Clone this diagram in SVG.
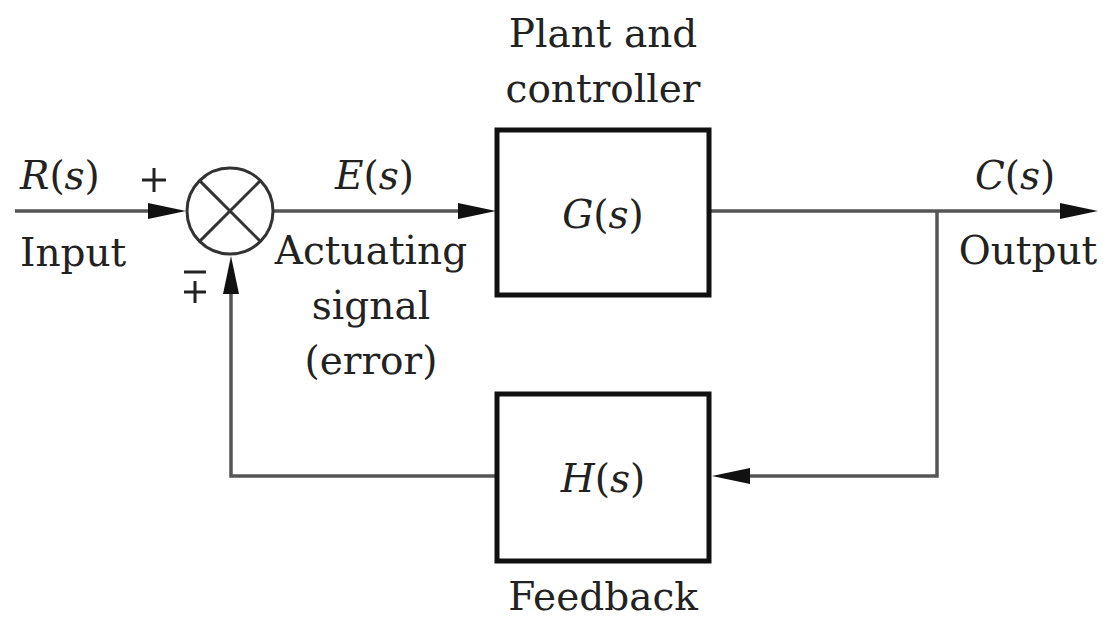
<svg xmlns="http://www.w3.org/2000/svg" width="1103" height="620" viewBox="0 0 1103 620">
<defs>
<style>
text{font-family:'DejaVu Serif',serif;font-size:39px;fill:#222}
.i{font-style:italic}
.c{text-anchor:middle}
.ln{fill:none;stroke:#555;stroke-width:3.5}
.box{fill:#fff;stroke:#111;stroke-width:5}
.ah{fill:#111}
</style>
</defs>
<rect width="1103" height="620" fill="#fff"/>
<g id="connectors">
<line class="ln" x1="15" y1="211" x2="160" y2="211"/>
<polygon class="ah" points="148,203 186,211 148,219"/>
<line class="ln" x1="273" y1="211" x2="470" y2="211"/>
<polygon class="ah" points="458,203 496,211 458,219"/>
<line class="ln" x1="710" y1="211" x2="1070" y2="211"/>
<polygon class="ah" points="1060,203 1098,211 1060,219"/>
<polyline class="ln" points="937,211 937,476 740,476"/>
<polygon class="ah" points="750,468 712,476 750,484"/>
<polyline class="ln" points="497,476 231,476 231,285"/>
<polygon class="ah" points="223,294 231,256 239,294"/>
</g>
<g id="sum">
<circle cx="230" cy="211" r="43" fill="#fff" stroke="#333" stroke-width="3"/>
<line x1="199.6" y1="180.6" x2="260.4" y2="241.4" stroke="#333" stroke-width="3"/>
<line x1="260.4" y1="180.6" x2="199.6" y2="241.4" stroke="#333" stroke-width="3"/>
<line x1="142" y1="180" x2="166" y2="180" stroke="#222" stroke-width="3"/>
<line x1="154" y1="168" x2="154" y2="192" stroke="#222" stroke-width="3"/>
<line x1="184" y1="272" x2="206" y2="272" stroke="#222" stroke-width="3"/>
<line x1="184" y1="292" x2="206" y2="292" stroke="#222" stroke-width="3"/>
<line x1="195" y1="281" x2="195" y2="303" stroke="#222" stroke-width="3"/>
</g>
<g id="plant">
<rect class="box" x="497" y="130" width="212" height="165"/>
<text x="603" y="228" class="c"><tspan class="i">G</tspan>(<tspan class="i">s</tspan>)</text>
<text x="603" y="47" class="c">Plant and</text>
<text x="603" y="102" class="c">controller</text>
</g>
<g id="feedback">
<rect class="box" x="497" y="394" width="212" height="167"/>
<text x="603" y="492" class="c"><tspan class="i">H</tspan>(<tspan class="i">s</tspan>)</text>
<text x="603" y="610" class="c">Feedback</text>
</g>
<g id="labels">
<text x="20" y="189"><tspan class="i">R</tspan>(<tspan class="i">s</tspan>)</text>
<text x="20" y="266">Input</text>
<text x="335" y="189"><tspan class="i">E</tspan>(<tspan class="i">s</tspan>)</text>
<text x="371" y="264" class="c">Actuating</text>
<text x="371" y="319" class="c">signal</text>
<text x="371" y="374" class="c">(error)</text>
<text x="975" y="189"><tspan class="i">C</tspan>(<tspan class="i">s</tspan>)</text>
<text x="1028" y="264" class="c">Output</text>
</g>
</svg>
